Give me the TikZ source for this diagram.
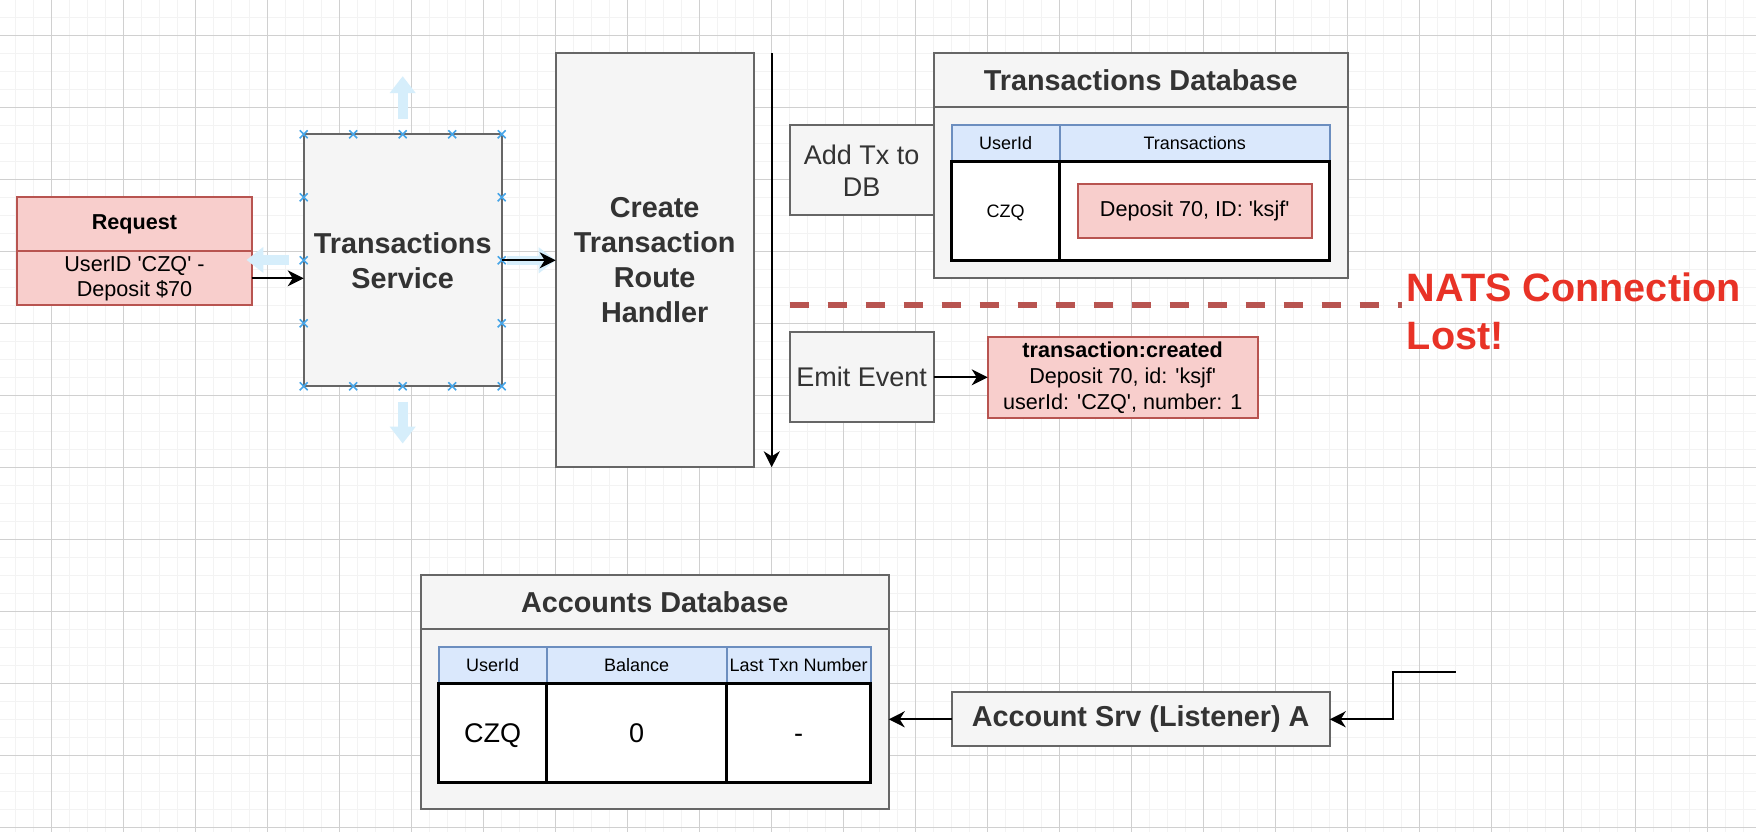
\documentclass[tikz,border=0pt]{standalone}
\usepackage{fontspec}
\newfontfamily\dfont{Liberation Sans}
\usetikzlibrary{arrows.meta}

\definecolor{gridmajor}{RGB}{208,208,208}
\definecolor{gridminor}{RGB}{243,243,243}
\definecolor{boxfill}{RGB}{245,245,245}
\definecolor{boxline}{RGB}{102,102,102}
\definecolor{boxtext}{RGB}{51,51,51}
\definecolor{pinkfill}{RGB}{248,206,204}
\definecolor{pinkline}{RGB}{184,84,80}
\definecolor{bluefill}{RGB}{218,232,252}
\definecolor{blueline}{RGB}{108,142,191}
\definecolor{natsred}{RGB}{232,50,38}
\definecolor{hoverblue}{RGB}{214,238,251}
\definecolor{handleblue}{RGB}{70,165,232}

\tikzset{
  minorgrid/.style={draw=gridminor, line width=1.5pt},
  majorgrid/.style={draw=gridmajor, line width=1pt},
  graybox/.style={draw=boxline, fill=boxfill, line width=2pt, text=boxtext, align=center, inner sep=0pt, outer sep=0pt},
  pinkbox/.style={draw=pinkline, fill=pinkfill, line width=2pt, text=black, align=center, inner sep=0pt, outer sep=0pt},
  headcell/.style={draw=blueline, fill=bluefill, line width=2pt, minimum height=36pt, inner sep=0pt, outer sep=0pt, font=\dfont\fontsize{18}{21.6}\selectfont},
  bodycell/.style={draw=black, fill=white, line width=2.5pt, minimum height=99pt, inner sep=0pt, outer sep=0pt},
  titlefont/.style={font=\dfont\fontsize{28.8}{35}\selectfont\bfseries},
  midfont/.style={font=\dfont\fontsize{27}{32}\selectfont},
  reqfont/.style={font=\dfont\fontsize{21.6}{25}\selectfont},
  evfont/.style={font=\dfont\fontsize{21.6}{26}\selectfont},
  flow/.style={-{Stealth[length=16pt,width=16pt,inset=5pt]}, line width=2pt},
  hover/.style={draw=hoverblue, line width=9.6pt, -{Triangle[length=17pt,width=25pt]}},
  handle/.style={draw=handleblue, line width=1.6pt},
  lossline/.style={draw=pinkline, line width=6pt, dash pattern=on 19pt off 19pt}
}

\begin{document}
\begin{tikzpicture}[x=18pt,y=-18pt]
\useasboundingbox (-2.872,-1.961) rectangle (94.683,44.261);
\fill[white] (-2.872,-1.961) rectangle (94.683,44.261);

% grid
\foreach \i in {-2,...,94} \draw[minorgrid] (\i,-1.961) -- (\i,44.261);
\foreach \j in {-1,...,44} \draw[minorgrid] (-2.872,\j) -- (94.683,\j);
\foreach \i in {0,4,...,92} \draw[majorgrid] (\i,-1.961) -- (\i,44.261);
\foreach \j in {0,4,...,44} \draw[majorgrid] (-2.872,\j) -- (94.683,\j);

% request
\node[pinkbox, reqfont, minimum width=234pt, minimum height=54pt] at (4.6,10.5) (reqhead) {\textbf{Request}};
\node[pinkbox, reqfont, minimum width=234pt, minimum height=54pt] at (4.6,13.5) (reqbody) {UserID 'CZQ' -\\Deposit \$70};

% transactions service
\node[graybox, titlefont, minimum width=198pt, minimum height=252pt] at (19.5,12.5) (txsrv) {Transactions\\Service};
\draw[hover] (19.5,4.65) -- (19.5,2.27);
\draw[hover] (19.5,20.37) -- (19.5,22.68);
\draw[hover] (13.17,12.48) -- (10.82,12.48);
\draw[hover] (25.32,12.5) -- (28,12.5);
\foreach \x in {14,16.75,19.5,22.25,25}
  \foreach \y in {5.5,19.5}
    \draw[handle] (\x,\y) +(-.22,-.22) -- +(.22,.22) +(-.22,.22) -- +(.22,-.22);
\foreach \x in {14,25}
  \foreach \y in {9,12.5,16}
    \draw[handle] (\x,\y) +(-.22,-.22) -- +(.22,.22) +(-.22,.22) -- +(.22,-.22);

% route handler
\node[graybox, titlefont, minimum width=198pt, minimum height=414pt] at (33.5,12.5) (handler) {Create\\Transaction\\Route\\Handler};
\coordinate (flowtop) at (40,1);
\coordinate (flowend) at (40,24);

\draw[flow] (reqbody.east) -- (txsrv.west |- reqbody.east);
\draw[flow] (txsrv.east) -- (handler.west);
\draw[flow] (flowtop) -- (flowend);

% transactions database
\node[graybox, midfont, minimum width=144pt, minimum height=90pt] at (45,7.5) (addtx) {Add Tx to\\DB};
\node[graybox, minimum width=414pt, minimum height=225pt] at (60.5,7.25) (txdb) {};
\draw[boxline, line width=2pt] (49,4) -- (72,4);
\node[titlefont, text=boxtext] at (60.5,2.5) (txdbtitle) {Transactions Database};
\node[headcell, minimum width=108pt] at (53,6) (txhuser) {UserId};
\node[headcell, minimum width=270pt] at (63.5,6) (txhlist) {Transactions};
\node[bodycell, minimum width=108pt, font=\dfont\fontsize{18}{21.6}\selectfont, text height=13pt, text depth=0pt] at (53,9.75) (txbuser) {CZQ};
\node[bodycell, minimum width=270pt] at (63.5,9.75) (txblist) {};
\node[pinkbox, evfont, minimum width=234pt, minimum height=54pt] at (63.5,9.75) (txentry) {Deposit 70, ID: 'ksjf'};

% lost connection
\coordinate (lossstart) at (41,15);
\coordinate (lossend) at (75,15);
\draw[lossline] (lossstart) -- (lossend);
\node[font=\dfont\fontsize{39.6}{47.5}\selectfont\bfseries, text=natsred, align=left, anchor=base west, inner sep=0pt] at (75.28,17.43) (natslost) {NATS Connection\\Lost!};

% emit
\node[graybox, midfont, minimum width=144pt, minimum height=90pt] at (45,19) (emit) {Emit Event};
\node[pinkbox, evfont, minimum width=270pt, minimum height=81pt] at (59.5,19) (event) {\textbf{transaction:created}\\Deposit 70, id: 'ksjf'\\userId: 'CZQ', number: 1};
\draw[flow] (emit) -- (event);

% accounts database
\node[graybox, minimum width=468pt, minimum height=234pt] at (33.5,36.5) (acctdb) {};
\draw[boxline, line width=2pt] (20.5,33) -- (46.5,33);
\node[titlefont, text=boxtext] at (33.5,31.5) (acctdbtitle) {Accounts Database};
\node[headcell, minimum width=108pt] at (24.5,35) (achuser) {UserId};
\node[headcell, minimum width=180pt] at (32.5,35) (achbal) {Balance};
\node[headcell, minimum width=144pt] at (41.5,35) (achlast) {Last Txn Number};
\node[bodycell, midfont, minimum width=108pt, text height=19.5pt, text depth=0pt] at (24.5,38.75) (acbuser) {CZQ};
\node[bodycell, midfont, minimum width=180pt, text height=19.5pt, text depth=0pt] at (32.5,38.75) (acbbal) {0};
\node[bodycell, midfont, minimum width=144pt, text height=19.5pt, text depth=0pt] at (41.5,38.75) (acblast) {-};

% listener
\node[graybox, titlefont, minimum width=378pt, minimum height=54pt] at (60.5,38) (acctsrv) {Account Srv (Listener) A};
\coordinate (natsin) at (78,35.36);
\draw[flow] (acctsrv.west) -- (acctdb.east |- acctsrv.west);
\draw[flow] (natsin) -- ++(-3.5,0) |- (acctsrv.east);
\end{tikzpicture}
\end{document}
